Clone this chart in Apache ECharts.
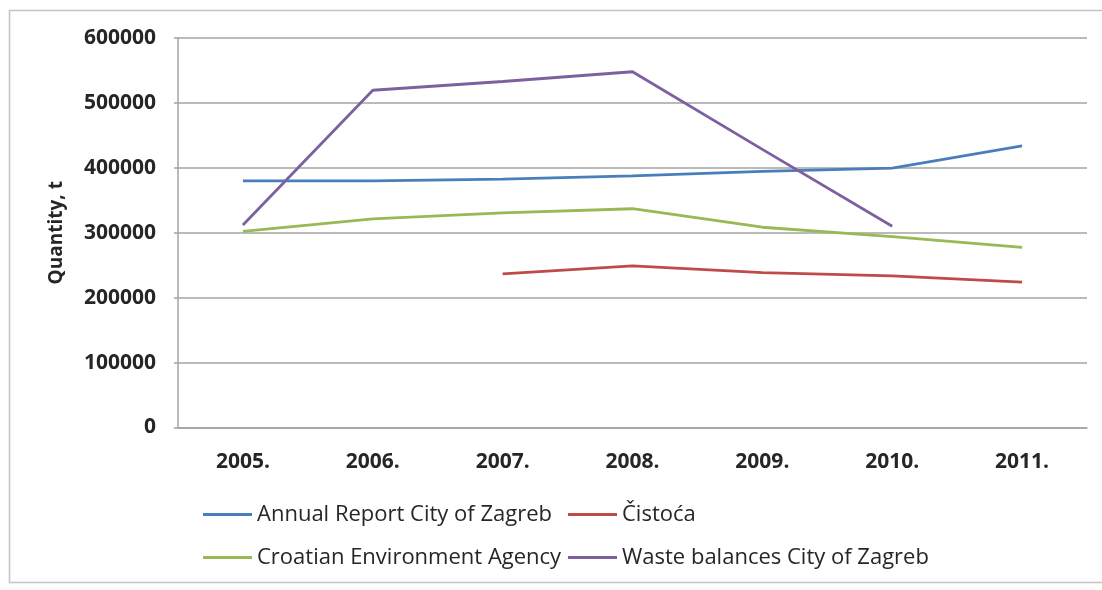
<!DOCTYPE html>
<html>
<head>
<meta charset="utf-8">
<script src="https://cdn.jsdelivr.net/npm/echarts@6/dist/echarts.min.js"></script>
<style>
  html, body { margin: 0; padding: 0; background: #ffffff; }
  #chart { width: 1102px; height: 590px; }
</style>
</head>
<body>
<div id="chart"></div>
<script>
// Municipal waste quantities in Zagreb by source, 2005–2011 (tonnes)
const years = ['2005.', '2006.', '2007.', '2008.', '2009.', '2010.', '2011.'];
const annualReport = [380000, 380000, 382500, 387500, 394500, 399500, 434000];
const cistoca = [null, null, 236500, 249000, 238500, 233500, 224000];
const croatianAgency = [302000, 321500, 330500, 337000, 308500, 294000, 277500];
const wasteBalances = [312000, 519500, 533000, 548000, 428500, 310000, null];

const seriesNames = [
  'Annual Report City of Zagreb',
  'Čistoća',
  'Croatian Environment Agency',
  'Waste balances City of Zagreb'
];
const seriesColors = ['#4a7ebb', '#be4b48', '#98b954', '#7d60a0'];
const seriesValues = [annualReport, cistoca, croatianAgency, wasteBalances];

const yTicks = { min: 0, max: 600000, interval: 100000 };
const yTitle = 'Quantity, t';

const fontFamily = '"Open Sans", "Noto Sans", sans-serif';
const textColor = '#262626';
const gridColor = '#a3a3a3';

const chart = echarts.init(document.getElementById('chart'), null, { renderer: 'canvas' });

chart.setOption({
  backgroundColor: '#ffffff',
  animation: false,
  graphic: [
    {
      // outer chart frame (right edge runs off the page)
      type: 'rect',
      shape: { x: 9.5, y: 10.5, width: 1110, height: 572 },
      style: { fill: 'none', stroke: '#c4c4c4', lineWidth: 1.5 },
      silent: true,
      z: -1
    }
  ],
  grid: { left: 178, right: 15, top: 38, bottom: 162.5, containLabel: false },
  xAxis: {
    type: 'category',
    data: years,
    boundaryGap: true,
    axisLine: { show: true, lineStyle: { color: gridColor, width: 1.5 } },
    axisTick: { show: false },
    axisLabel: {
      color: textColor,
      fontFamily: fontFamily,
      fontWeight: 'bold',
      fontSize: 21,
      margin: 24
    },
    splitLine: { show: false }
  },
  yAxis: {
    type: 'value',
    min: yTicks.min,
    max: yTicks.max,
    interval: yTicks.interval,
    name: yTitle,
    nameLocation: 'middle',
    nameGap: 112,
    nameRotate: 90,
    nameTextStyle: {
      color: textColor,
      fontFamily: fontFamily,
      fontWeight: 'bold',
      fontSize: 19
    },
    axisLine: { show: true, lineStyle: { color: gridColor, width: 1.5 } },
    axisTick: { show: true, length: 4, lineStyle: { color: gridColor, width: 1.5 } },
    axisLabel: {
      color: textColor,
      fontFamily: fontFamily,
      fontWeight: 'bold',
      fontSize: 21,
      margin: 22,
      formatter: (v) => String(v)
    },
    splitLine: { show: true, lineStyle: { color: gridColor, width: 1.5 } }
  },
  legend: {
    orient: 'horizontal',
    left: 198,
    top: 488,
    width: 780,
    itemWidth: 49,
    itemHeight: 3,
    itemGap: 0,
    icon: 'rect',
    data: seriesNames,
    textStyle: {
      color: textColor,
      fontFamily: fontFamily,
      fontSize: 22,
      width: 311,
      lineHeight: 43,
      overflow: 'none'
    }
  },
  series: seriesNames.map((name, i) => ({
    name: name,
    type: 'line',
    data: seriesValues[i],
    showSymbol: false,
    symbol: 'none',
    connectNulls: false,
    lineStyle: { color: seriesColors[i], width: 2.8 },
    itemStyle: { color: seriesColors[i] }
  }))
});
</script>
</body>
</html>
